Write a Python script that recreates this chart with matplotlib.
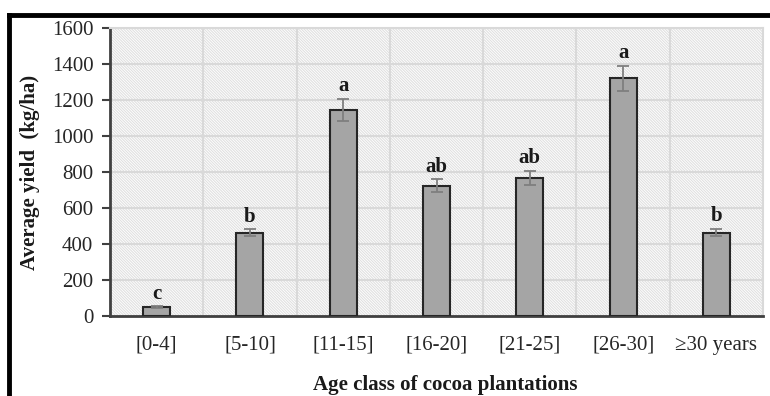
import matplotlib.pyplot as plt
import numpy as np
from matplotlib.patches import Rectangle
from matplotlib.lines import Line2D

plt.rcParams["font.family"] = ["Liberation Serif", "DejaVu Serif"]
plt.rcParams["hatch.linewidth"] = 0.8

AGE_CLASSES = ["[0-4]", "[5-10]", "[11-15]", "[16-20]", "[21-25]", "[26-30]", "\u226530 years"]
MEAN_YIELD = [50, 464, 1145, 725, 769, 1321, 464]
YIELD_ERR = [5, 18, 60, 35, 40, 68, 20]
GROUP_LETTERS = ["c", "b", "a", "ab", "ab", "a", "b"]
Y_TICKS = [0, 200, 400, 600, 800, 1000, 1200, 1400, 1600]

fig = plt.figure(figsize=(7.7, 3.96), dpi=100)
ax = fig.add_axes([0.1429, 0.2013, 0.991 - 0.1429, 0.9293 - 0.2013])

x = np.arange(len(AGE_CLASSES))

# hatched plot background
ax.add_patch(Rectangle((0, 0), 1, 1, transform=ax.transAxes, facecolor="white",
                       edgecolor="#e0e0e0", linewidth=0, hatch="\\" * 12, zorder=0))

ax.bar(x, MEAN_YIELD, width=0.29, color="#a5a5a5", edgecolor="#262626",
       linewidth=1.5, zorder=3)
ax.errorbar(x, MEAN_YIELD, yerr=YIELD_ERR, fmt="none", ecolor="#7f7f7f",
            elinewidth=1.3, capsize=4, capthick=1.3, zorder=4)

for xi, val, err, lab in zip(x, MEAN_YIELD, YIELD_ERR, GROUP_LETTERS):
    ax.text(xi, val + err + 15, lab, ha="center", va="bottom",
            fontsize=15, fontweight="bold", color="#1a1a1a", zorder=5)

ax.set_xlim(-0.5, len(AGE_CLASSES) - 0.5)
ax.set_ylim(0, 1600)
ax.set_yticks(Y_TICKS)
ax.set_xticks(x)
ax.set_xticklabels(AGE_CLASSES)
ax.set_xticks(np.arange(-0.5, len(AGE_CLASSES)), minor=True)
ax.tick_params(axis="x", which="both", length=0, labelsize=15, pad=14, labelcolor="#262626")
ax.tick_params(axis="y", length=6, width=1.5, pad=6, labelsize=15, color="#404040", labelcolor="#262626")

ax.grid(True, axis="y", which="major", color="#d9d9d9", linewidth=1.5, zorder=1)
ax.grid(True, axis="x", which="minor", color="#d9d9d9", linewidth=1.5, zorder=1)
ax.grid(False, axis="x", which="major")
ax.set_axisbelow(True)

for side in ["top", "right"]:
    ax.spines[side].set_color("#d9d9d9")
    ax.spines[side].set_linewidth(1.5)
for side in ["left", "bottom"]:
    ax.spines[side].set_color("#404040")
    ax.spines[side].set_linewidth(2)

ax.set_xlabel("Age class of cocoa plantations", fontsize=15, fontweight="bold",
              color="#1a1a1a")
ax.set_ylabel("Average yield  (kg/ha)", fontsize=15, fontweight="bold",
              color="#1a1a1a")
ax.xaxis.set_label_coords(0.513, -0.205)
ax.yaxis.set_label_coords(-0.108, 0.5)

# black frame around the figure (top and left visible)
fig.add_artist(Line2D([9 / 770, 1], [1 - 15 / 396, 1 - 15 / 396], color="black",
                      linewidth=3.5, transform=fig.transFigure))
fig.add_artist(Line2D([9 / 770, 9 / 770], [0, 1 - 15 / 396], color="black",
                      linewidth=3.5, transform=fig.transFigure))

fig.savefig("out.png", dpi=100)
